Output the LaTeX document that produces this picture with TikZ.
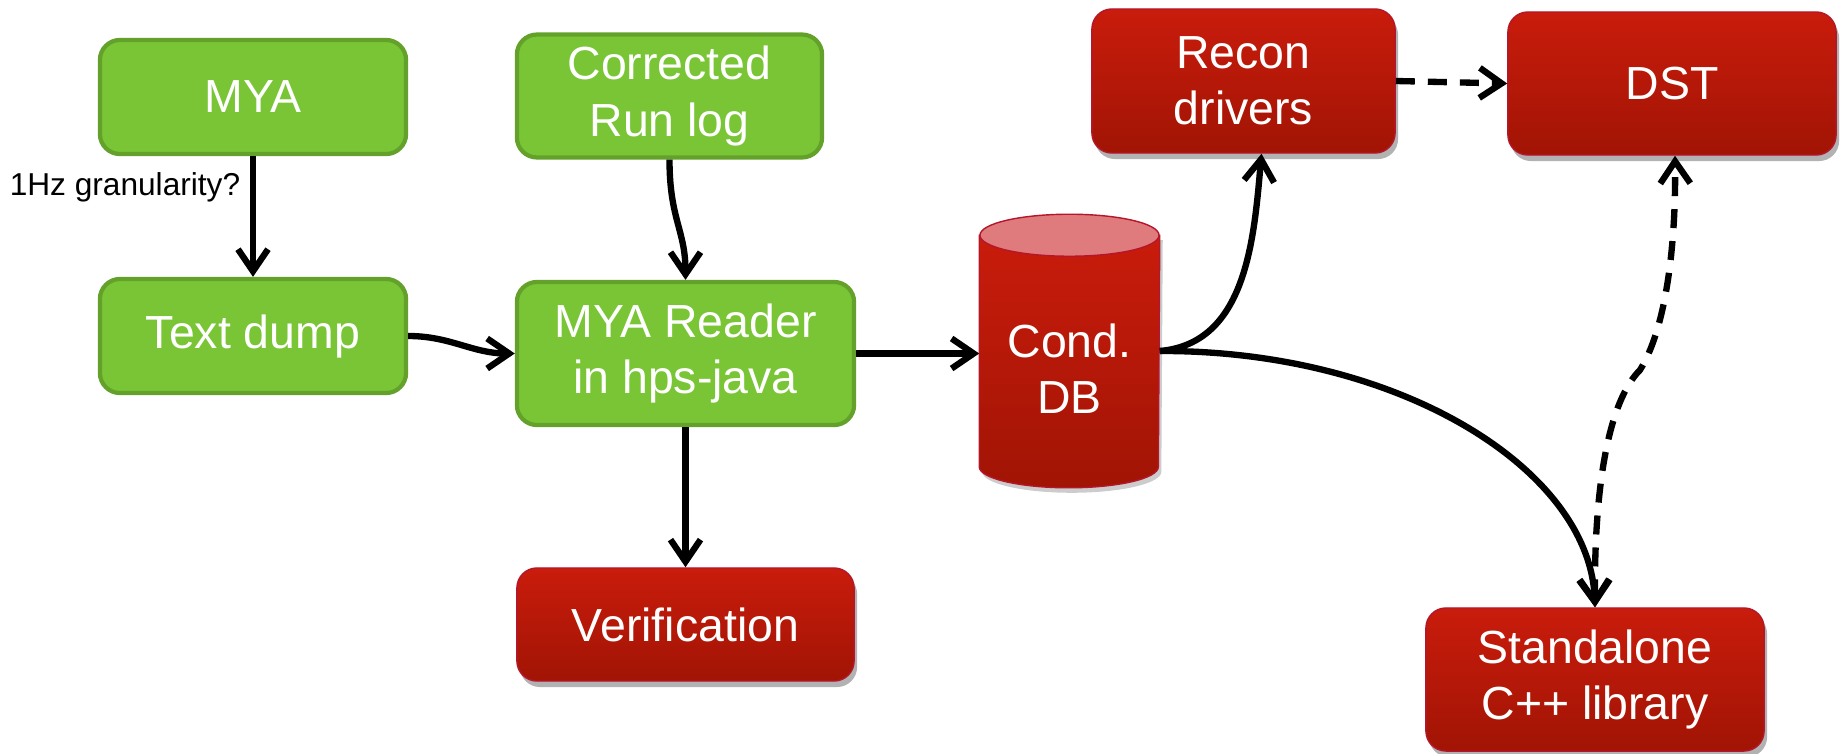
\documentclass[tikz,border=0pt]{standalone}
\usepackage{fontspec}
\setmainfont{Liberation Sans}
\usetikzlibrary{arrows.meta,shadows,backgrounds}
\definecolor{boxGreen}{HTML}{79C535}
\definecolor{boxGreenLine}{HTML}{64A12B}
\definecolor{boxRedTop}{HTML}{C91C0C}
\definecolor{boxRedBottom}{HTML}{A11404}
\definecolor{boxRedLine}{HTML}{B4162A}
\definecolor{dbTop}{HTML}{DF7B7D}
\tikzstyle{greenBox}=[shape = rectangle, rounded corners = 0.2cm, fill = boxGreen, draw = boxGreenLine, line width = 1.2pt, text = white, align = center, font = \fontsize{13.2}{16}\selectfont]
\tikzstyle{redBox}=[shape = rectangle, rounded corners = 0.2cm, top color = boxRedTop, bottom color = boxRedBottom, draw = boxRedLine, line width = 0.4pt, text = white, align = center, font = \fontsize{13.2}{16}\selectfont, drop shadow = {shadow xshift = 0.3mm, shadow yshift = -0.6mm, opacity = 0.3, fill = black}]

\begin{document}
\begin{tikzpicture}[x = 0.01cm, y = -0.01cm]
\tikzstyle{flowArrow}=[-{Straight Barb[length = 2.2mm, width = 3mm]}, line width = 1.8pt, black]
\tikzstyle{dashArrow}=[flowArrow, dash pattern = on 1.9mm off 1.3mm]
\tikzstyle{noteText}=[font = \fontsize{9}{11}\selectfont, text = black, inner sep = 0pt]
\tikzstyle{dbStyle}=[shape = rectangle, minimum width = 1.79cm, minimum height = 2.72cm, text = white, font = \fontsize{13.2}{16}\selectfont, inner sep = 0pt]
\useasboundingbox (0, 0) rectangle (1841, 754);
\node[greenBox, minimum width = 3.06cm, minimum height = 1.14cm] (mya) at (253, 97) {MYA};
\node[greenBox, minimum width = 3.05cm, minimum height = 1.14cm] (runLog) at (669.5, 96) {Corrected\\Run log};
\node[greenBox, minimum width = 3.06cm, minimum height = 1.14cm] (textDump) at (253, 336) {Text dump};
\node[greenBox, minimum width = 3.37cm, minimum height = 1.43cm] (reader) at (685.5, 353.5) {MYA Reader\\in hps-java};
\node[redBox, minimum width = 3.37cm, minimum height = 1.13cm] (verif) at (685.5, 624.5) {Verification};
\node[redBox, minimum width = 3.03cm, minimum height = 1.44cm] (recon) at (1243.5, 81) {Recon\\drivers};
\node[redBox, minimum width = 3.28cm, minimum height = 1.43cm] (dst) at (1672, 83.5) {DST};
\node[redBox, minimum width = 3.38cm, minimum height = 1.43cm] (cLib) at (1595, 679.5) {Standalone\\C++ library};
\node[dbStyle] (condDB) at (1069.5, 351) {\raisebox{-0.23cm}[\height][\depth]{\begin{tabular}{@{}c@{}}Cond.\\DB\end{tabular}}};
\node[noteText] (granLabel) at (125, 187) {1Hz granularity?};
\begin{pgfonlayer}{background}
\fill[black, opacity = 0.2] ([xshift = 0.3mm, yshift = -2.6mm]condDB.north west) -- ([xshift = 0.3mm, yshift = 1.6mm]condDB.south west) arc[start angle = 180, end angle = 360, x radius = 0.895cm, y radius = 0.21cm] -- ([xshift = 0.3mm, yshift = -2.6mm]condDB.north east) -- cycle;
\path[top color = boxRedTop, bottom color = boxRedBottom, draw = boxRedLine, line width = 0.4pt] ([yshift = -0.21cm]condDB.north west) -- ([yshift = 0.21cm]condDB.south west) arc[start angle = 180, end angle = 360, x radius = 0.895cm, y radius = 0.21cm] -- ([yshift = -0.21cm]condDB.north east) -- cycle;
\path[fill = dbTop, draw = boxRedLine, line width = 0.4pt] ([yshift = -0.21cm]condDB.north) ellipse[x radius = 0.895cm, y radius = 0.21cm];
\end{pgfonlayer}
\draw[flowArrow] (mya) -- (textDump);
\draw[flowArrow] (runLog.south) .. controls +(0, 60) and +(0, -50) .. (reader.north);
\draw[flowArrow] (textDump.east) to[out = 0, in = 180] (reader.west);
\draw[flowArrow] (reader.east) -- (reader.east -| condDB.west);
\draw[flowArrow] (reader.south) -- (verif.north);
\draw[flowArrow] (condDB.east) to[out = 5, in = -95] ([xshift = 0.18cm]recon.south);
\draw[flowArrow] (condDB.east) .. controls (1400, 350) and (1590, 470) .. (cLib.north);
\draw[dashArrow] (recon.east) -- (dst.west);
\draw[dashArrow, {Straight Barb[length = 2.2mm, width = 3mm]}-{Straight Barb[length = 2.2mm, width = 3mm]}] (cLib.north) .. controls (1594, 480) and (1610, 400) .. (1640, 370) .. controls (1665, 330) and (1676, 250) .. ([xshift = 0.03cm]dst.south);
\end{tikzpicture}
\end{document}
